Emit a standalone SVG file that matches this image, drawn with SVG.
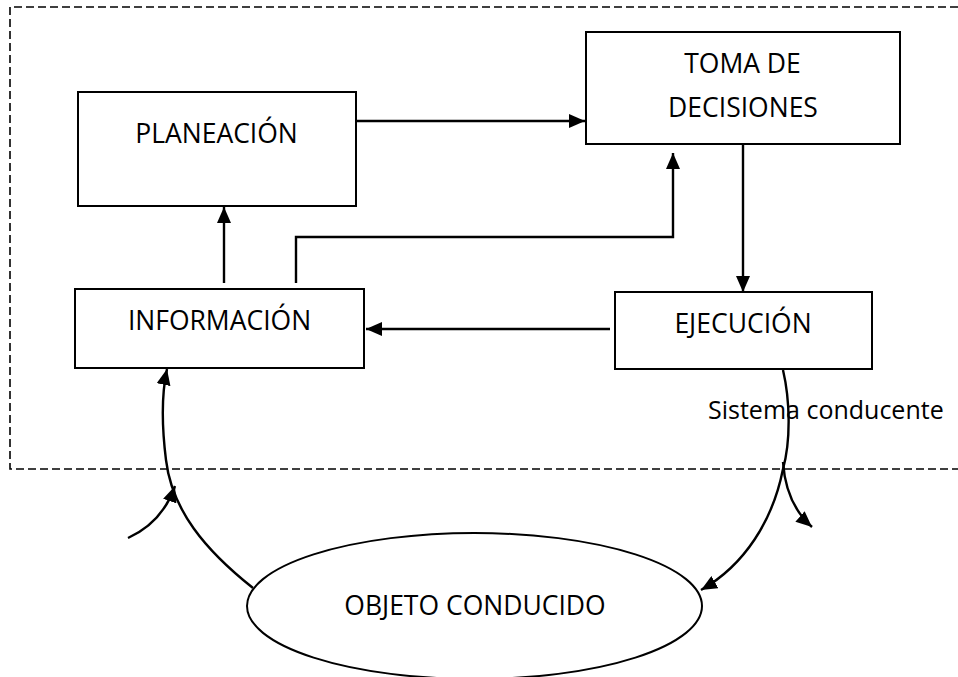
<svg xmlns="http://www.w3.org/2000/svg" width="958" height="677" viewBox="0 0 958 677">
<style>
.box{fill:#fff;stroke:#000;stroke-width:2}
.lbl{font-family:"Open Sans","Liberation Sans",sans-serif;font-size:26.5px;fill:#000;text-anchor:middle}
.ln{fill:none;stroke:#000;stroke-width:2.4}
.dash{fill:none;stroke:#000;stroke-width:1.6;stroke-dasharray:8 4}
</style>
<defs>
<marker id="ah" viewBox="0 0 16 14" refX="16" refY="7" markerWidth="16" markerHeight="14" orient="auto" markerUnits="userSpaceOnUse">
<path d="M0,0 L16,7 L0,14 z" fill="#000"/>
</marker>
</defs>
<rect width="958" height="677" fill="#fff"/>
<g id="sistema-conducente">
<path class="dash" d="M970,7 H10 V469 H970"/>
</g>
<g id="planeacion">
<rect class="box" x="78" y="92" width="278" height="114"/>
<text class="lbl" x="216.5" y="143">PLANEACIÓN</text>
</g>
<g id="toma-decisiones">
<rect class="box" x="586" y="32" width="314" height="112"/>
<text class="lbl" x="742.5" y="73">TOMA DE</text>
<text class="lbl" x="743" y="117">DECISIONES</text>
</g>
<g id="informacion">
<rect class="box" x="75" y="289" width="289" height="79"/>
<text class="lbl" x="219.5" y="330">INFORMACIÓN</text>
</g>
<g id="ejecucion">
<rect class="box" x="615" y="292" width="257" height="77"/>
<text class="lbl" x="743" y="333">EJECUCIÓN</text>
</g>
<g id="objeto-conducido">
<ellipse class="box" cx="474.5" cy="606" rx="227.5" ry="73"/>
<text class="lbl" x="475" y="615">OBJETO CONDUCIDO</text>
</g>
<g id="connectors">
<path class="ln" d="M356,121 H585" marker-end="url(#ah)"/>
<path class="ln" d="M743,144 V292" marker-end="url(#ah)"/>
<path class="ln" d="M610,329 H366" marker-end="url(#ah)"/>
<path class="ln" d="M224,283 V207" marker-end="url(#ah)"/>
<path class="ln" d="M296,283 V237 H673 V153" marker-end="url(#ah)"/>
<path class="ln" d="M783,370 C790,400 791,440 783,469 C773,520 745,565 701,590" marker-end="url(#ah)"/>
<path class="ln" d="M783,462 C785,492 795,512 812,527" marker-end="url(#ah)"/>
<path class="ln" d="M253,588 C205,550 172,510 166,460 C161,420 162,392 167,369" marker-end="url(#ah)"/>
<path class="ln" d="M128,538 C150,528 166,512 175,486" marker-end="url(#ah)"/>
</g>
<g id="label-sistema">
<text class="lbl" x="708" y="419" style="text-anchor:start;font-size:25px">Sistema conducente</text>
</g>
</svg>
